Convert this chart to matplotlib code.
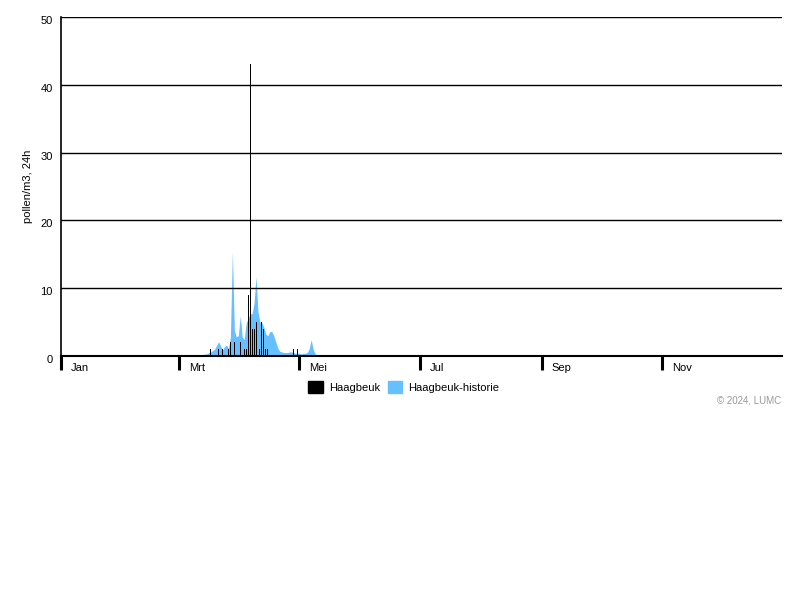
import matplotlib
matplotlib.use("Agg")
import matplotlib.pyplot as plt
import matplotlib.transforms as mtransforms
import numpy as np

plt.rcParams['font.family'] = ['Liberation Sans', 'DejaVu Sans']

# day-of-year (0 = 1 Jan, leap year 2024)
month_starts = [0, 60, 121, 182, 244, 305]
month_labels = ["Jan", "Mrt", "Mei", "Jul", "Sep", "Nov"]

# Haagbeuk (this year), daily counts
bar_days = [76, 80, 82, 85, 86, 88, 91, 93, 94, 95, 96, 97, 98, 99,
            101, 102, 103, 104, 105, 118, 120]
bar_vals = [1, 1, 1, 1, 2, 2, 2, 1, 1, 9, 43, 4, 4, 5,
            1, 5, 4, 1, 1, 1, 1]

# Haagbeuk-historie, daily mean
hist_days = list(range(64, 156))
hist_vals = [0.0, 0.1, 0.0, 0.0, 0.0, 0.0, 0.1, 0.1, 0.2, 0.3,
             0.3, 0.5, 0.6, 0.8, 1.0, 1.6, 2.1, 1.5, 0.9, 1.4,
             1.6, 1.1, 2.8, 15.4, 3.8, 2.8, 3.0, 5.9, 2.8, 2.4,
             4.9, 5.5, 6.3, 6.2, 7.8, 11.7, 6.5, 5.0, 4.9, 4.2,
             3.2, 3.0, 3.6, 3.6, 3.0, 2.1, 1.2, 0.7, 0.6, 0.5,
             0.5, 0.5, 0.6, 0.6, 0.5, 0.4, 0.4, 0.4, 0.3, 0.4,
             0.4, 0.5, 1.1, 2.4, 1.0, 0.3, 0.2, 0.1, 0.1, 0.1,
             0.1, 0.0, 0.0, 0.0, 0.0, 0.0, 0.0, 0.0, 0.0, 0.0,
             0.0, 0.0, 0.0, 0.1, 0.0, 0.0, 0.0, 0.1, 0.0, 0.0,
             0.0, 0.0]

blue = "#66bfff"

fig = plt.figure(figsize=(8, 6), dpi=100)
ax = fig.add_axes([0.07625, 0.4067, 0.90125, 0.565])

ax.fill_between(hist_days, hist_vals, 0, color=blue, lw=0, zorder=1)
ax.bar(bar_days, bar_vals, width=0.5, color="black", lw=0,
       antialiased=False, zorder=3)

ax.set_xlim(0, 366)
ax.set_ylim(0, 50)
ax.set_yticks([0, 10, 20, 30, 40, 50])
ax.yaxis.grid(True, color="black", lw=1)
ax.set_axisbelow(False)
for s in ["top", "right"]:
    ax.spines[s].set_visible(False)
ax.spines["left"].set_linewidth(1.2)
ax.spines["bottom"].set_linewidth(1.5)

ax.tick_params(axis="y", length=0, labelsize=8, pad=6)
ax.set_xticks(month_starts, month_labels)
ax.tick_params(axis="x", direction="out", length=10, width=2.2, labelsize=8, pad=-5)
offset = mtransforms.ScaledTranslation(10 / 100, 0, fig.dpi_scale_trans)
for lab in ax.get_xticklabels():
    lab.set_horizontalalignment("left")
    lab.set_transform(lab.get_transform() + offset)
for lab in ax.get_yticklabels():
    lab.set_transform(lab.get_transform() +
                      mtransforms.ScaledTranslation(0, -3 / 100, fig.dpi_scale_trans))

ax.set_ylabel("pollen/m3, 24h", fontsize=8, labelpad=5)

handles = [plt.Rectangle((0, 0), 1, 1, color="black"),
           plt.Rectangle((0, 0), 1, 1, color=blue)]
fig.legend(handles, ["Haagbeuk", "Haagbeuk-historie"], loc="center",
           bbox_to_anchor=(0.505, 0.355), ncol=2, frameon=False, fontsize=8,
           handlelength=1.3, handleheight=1.2, handletextpad=0.55, columnspacing=0.7)

fig.text(0.977, 0.333, "\u00a9 2024, LUMC", ha="right", va="center",
         fontsize=7, color="#999999")

fig.savefig("out.png", dpi=100)
